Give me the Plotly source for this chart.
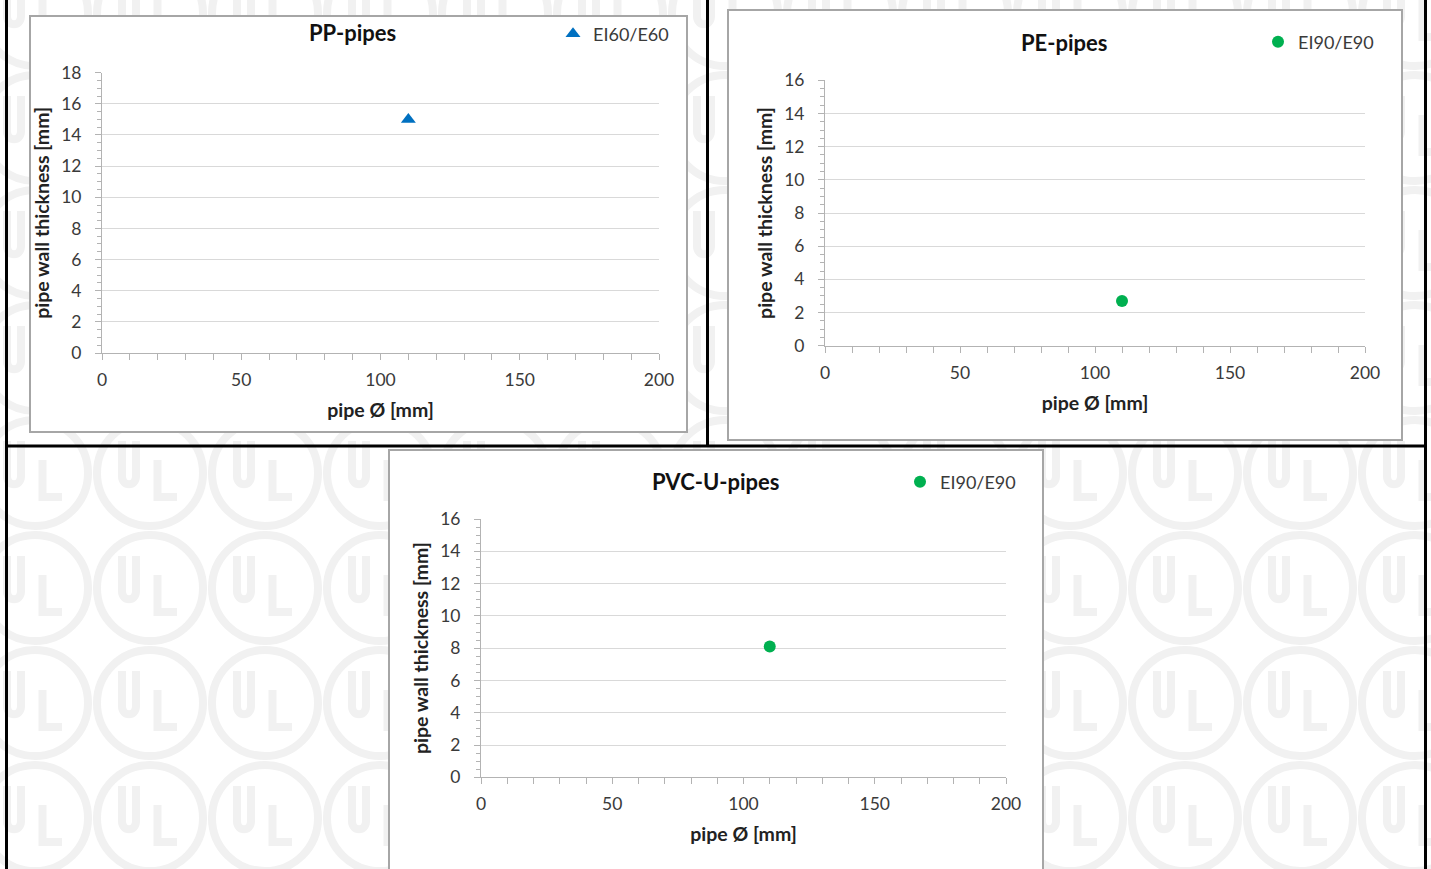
import plotly.graph_objects as go

# ---------------- data ----------------
pp_diam = [110]
pp_wall = [15.0]
pe_diam = [110]
pe_wall = [2.7]
pvc_diam = [110]
pvc_wall = [8.1]

x_tick_vals = [0, 50, 100, 150, 200]
pp_y_ticks = [0, 2, 4, 6, 8, 10, 12, 14, 16, 18]
pe_y_ticks = [0, 2, 4, 6, 8, 10, 12, 14, 16]
pvc_y_ticks = [0, 2, 4, 6, 8, 10, 12, 14, 16]

titles = ["PP-pipes", "PE-pipes", "PVC-U-pipes"]
legend_names = ["EI60/E60", "EI90/E90", "EI90/E90"]

W, H = 1431, 869
FONT = "Lato"


def fx(x):
    return x / W


def fy(y):
    return 1 - y / H


fig = go.Figure()

# ---------------- traces ----------------
fig.add_trace(go.Scatter(x=pp_diam, y=pp_wall, mode="markers", name=legend_names[0],
                         marker=dict(symbol="triangle-up", size=13, color="#0070C0"),
                         xaxis="x", yaxis="y", legend="legend"))
fig.add_trace(go.Scatter(x=pe_diam, y=pe_wall, mode="markers", name=legend_names[1],
                         marker=dict(symbol="circle", size=12, color="#00B050"),
                         xaxis="x2", yaxis="y2", legend="legend2"))
fig.add_trace(go.Scatter(x=pvc_diam, y=pvc_wall, mode="markers", name=legend_names[2],
                         marker=dict(symbol="circle", size=12, color="#00B050"),
                         xaxis="x3", yaxis="y3", legend="legend3"))

# ---------------- axes ----------------
axis_line = "#b3b3b3"
grid = "#d9d9d9"
tick_font = dict(family=FONT, size=17.5, color="#3a3a3a")
title_font = dict(family=FONT, size=19.5, color="#222222", weight="bold")


def xaxis(domain, anchor):
    return dict(domain=domain, anchor=anchor, range=[0, 200], tickvals=x_tick_vals,
                showgrid=False, zeroline=False, showline=True, linecolor=axis_line, linewidth=1,
                ticks="outside", ticklen=6, tickcolor=axis_line, tickfont=tick_font,
                ticklabelstandoff=5, automargin=False,
                minor=dict(dtick=10, ticks="outside", ticklen=6, tickcolor=axis_line),
                title=dict(text="pipe Ø [mm]", font=title_font, standoff=14),
                fixedrange=True)


def yaxis(domain, anchor, top, tickvals):
    return dict(domain=domain, anchor=anchor, range=[0, top], tickvals=tickvals,
                showgrid=True, gridcolor=grid, gridwidth=1, zeroline=False,
                showline=True, linecolor=axis_line, linewidth=1,
                ticks="outside", ticklen=6, tickcolor=axis_line, tickfont=tick_font,
                ticklabelstandoff=10, automargin=False,
                minor=dict(dtick=0.5, ticks="outside", ticklen=4, tickcolor=axis_line, showgrid=False),
                title=dict(text="pipe wall thickness [mm]", font=title_font, standoff=6),
                fixedrange=True)


fig.update_layout(
    xaxis=xaxis([fx(102), fx(659)], "y"),
    yaxis=yaxis([fy(353), fy(72.7)], "x", 18, pp_y_ticks),
    xaxis2=xaxis([fx(825), fx(1365)], "y2"),
    yaxis2=yaxis([fy(345.7), fy(80.3)], "x2", 16, pe_y_ticks),
    xaxis3=xaxis([fx(481), fx(1006)], "y3"),
    yaxis3=yaxis([fy(777.3), fy(519)], "x3", 16, pvc_y_ticks),
)

# ---------------- legends ----------------
leg_font = dict(family=FONT, size=18, color="#3a3a3a")


def legend(xr, yc):
    return dict(x=fx(xr), y=fy(yc), xanchor="right", yanchor="middle", font=leg_font,
                bgcolor="rgba(0,0,0,0)", borderwidth=0, itemwidth=30,
                tracegroupgap=0)


fig.update_layout(
    legend=legend(674, 34),
    legend2=legend(1379, 42),
    legend3=legend(1021, 482),
)

# ---------------- chart titles ----------------
for txt, xc, yc in [(titles[0], 352, 32), (titles[1], 1064, 42), (titles[2], 715, 481)]:
    fig.add_annotation(text=txt, x=fx(xc), y=fy(yc), xref="paper", yref="paper",
                       showarrow=False, xanchor="center", yanchor="middle",
                       font=dict(family=FONT, size=22, color="#111111", weight="bold"))

# ---------------- background: UL watermark ----------------
shapes = []
wm = "#f1f1f1"
R = 53
letter_path = []
for i in range(-1, 14):
    cx = 35 + 115 * i
    for j in range(-5, 4):
        cy = 473 + 115 * j
        shapes.append(dict(type="circle", xref="paper", yref="paper",
                           x0=fx(cx - R), x1=fx(cx + R), y0=fy(cy + R), y1=fy(cy - R),
                           line=dict(color=wm, width=8), layer="below"))
        # U
        letter_path.append(
            f"M{fx(cx-28):.5f},{fy(cy-32):.5f} L{fx(cx-28):.5f},{fy(cy+3):.5f} "
            f"C{fx(cx-28):.5f},{fy(cy+14):.5f} {fx(cx-14):.5f},{fy(cy+14):.5f} {fx(cx-14):.5f},{fy(cy+3):.5f} "
            f"L{fx(cx-14):.5f},{fy(cy-32):.5f}")
        # L
        letter_path.append(
            f"M{fx(cx+7.5):.5f},{fy(cy-13):.5f} L{fx(cx+7.5):.5f},{fy(cy+24):.5f} L{fx(cx+27):.5f},{fy(cy+24):.5f}")
shapes.append(dict(type="path", xref="paper", yref="paper", path=" ".join(letter_path),
                   line=dict(color=wm, width=8), layer="below"))

# chart boxes (white with grey frame)
for x0, y0, x1, y1 in [(30, 16, 687, 432), (728, 10, 1402, 440), (389, 450, 1043, 875)]:
    shapes.append(dict(type="rect", xref="paper", yref="paper",
                       x0=fx(x0), x1=fx(x1), y0=fy(y1), y1=fy(y0),
                       fillcolor="white", line=dict(color="#a6a6a6", width=2), layer="below"))

# black frame lines
blk = dict(color="black", width=3)
shapes += [
    dict(type="line", xref="paper", yref="paper", x0=fx(6.5), x1=fx(6.5), y0=0, y1=1, line=blk),
    dict(type="line", xref="paper", yref="paper", x0=fx(1425.5), x1=fx(1425.5), y0=0, y1=1, line=blk),
    dict(type="line", xref="paper", yref="paper", x0=fx(707.5), x1=fx(707.5), y0=fy(446), y1=1, line=blk),
    dict(type="line", xref="paper", yref="paper", x0=fx(5), x1=fx(1427), y0=fy(446), y1=fy(446), line=blk),
]

fig.update_layout(
    shapes=shapes,
    width=W, height=H,
    margin=dict(l=0, r=0, t=0, b=0, autoexpand=False),
    paper_bgcolor="white",
    plot_bgcolor="white",
    font=dict(family=FONT),
    showlegend=True,
)

fig.write_html("out.html", config={"displayModeBar": False},
               post_script="document.body.style.margin='0';document.body.style.overflow='hidden';")
